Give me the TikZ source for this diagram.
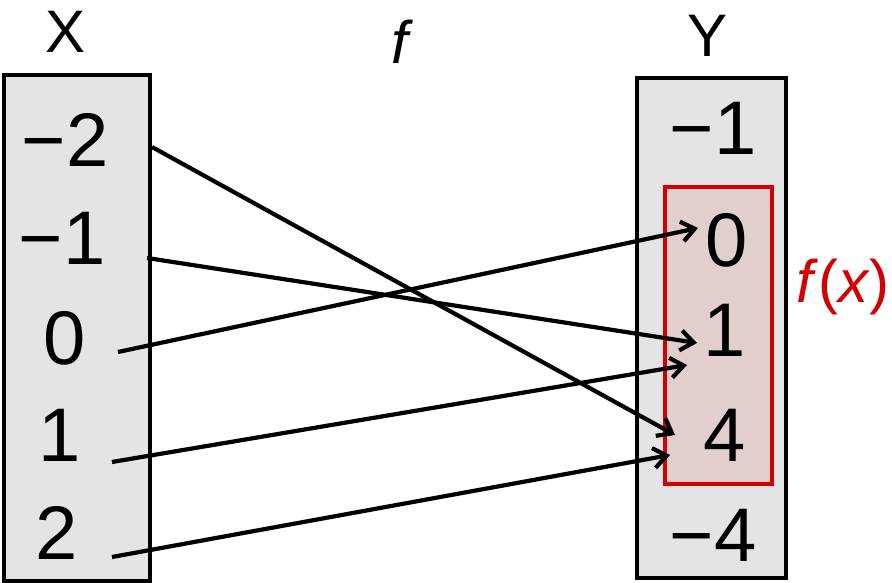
\documentclass[tikz,border=0pt]{standalone}
\usepackage{fontspec}
\setmainfont{Liberation Sans}
\usetikzlibrary{calc,arrows.meta}
\definecolor{setgray}{HTML}{E4E4E4}
\definecolor{imgred}{HTML}{D20000}
\definecolor{imgpink}{HTML}{E3CECE}
\begin{document}
\begin{tikzpicture}[x=1pt, y=-1pt,
  setbox/.style={draw=black, fill=setgray, line width=4.5pt},
  imgbox/.style={draw=imgred, fill=imgpink, line width=3.5pt},
  elem/.style={inner sep=0pt, font=\fontsize{76}{76}\selectfont},
  title/.style={inner sep=0pt, font=\fontsize{60}{60}\selectfont},
  maparrow/.style={line width=4.2pt, -{Straight Barb[length=13pt, width=20pt, line width=4.2pt]}}]
\useasboundingbox (0,0) rectangle (892,583);
% the two sets
\draw[setbox] (4,75) rectangle (150,581);
\draw[setbox] (637,78) rectangle (786,578);
\draw[imgbox] (665,187) rectangle (772,484);
% titles
\node[title] (setx) at (66,32) {X};
\node[title] (fname) at (402,42) {\textit{f}};
\node[title] (sety) at (708,36) {Y};
\node[title, text=imgred] (image) at (843,287) {\textit{f}(\textit{x})};
% domain
\node[elem] (xm2) at (65,140) {−2};
\node[elem] (xm1) at (62,238) {−1};
\node[elem] (x0) at (65,338) {0};
\node[elem] (x1) at (60,435) {1};
\node[elem] (x2) at (57,533) {2};
% codomain
\node[elem] (ym1) at (713,128) {−1};
\node[elem] (y0) at (727,240) {0};
\node[elem] (y1) at (725,330) {1};
\node[elem] (y4) at (725,435) {4};
\node[elem] (ym4) at (713,535) {−4};
% the map
\draw[maparrow] ($(xm2)+(87,7)$) -- ($(y4)+(-50,0)$);
\draw[maparrow] ($(xm1)+(85,20)$) -- ($(y1)+(-28,13)$);
\draw[maparrow] ($(x0)+(53,14)$) -- ($(y0)+(-29,-12)$);
\draw[maparrow] ($(x1)+(52,27)$) -- ($(y1)+(-38,35)$);
\draw[maparrow] ($(x2)+(55,24)$) -- ($(y4)+(-55,20)$);
\end{tikzpicture}
\end{document}
